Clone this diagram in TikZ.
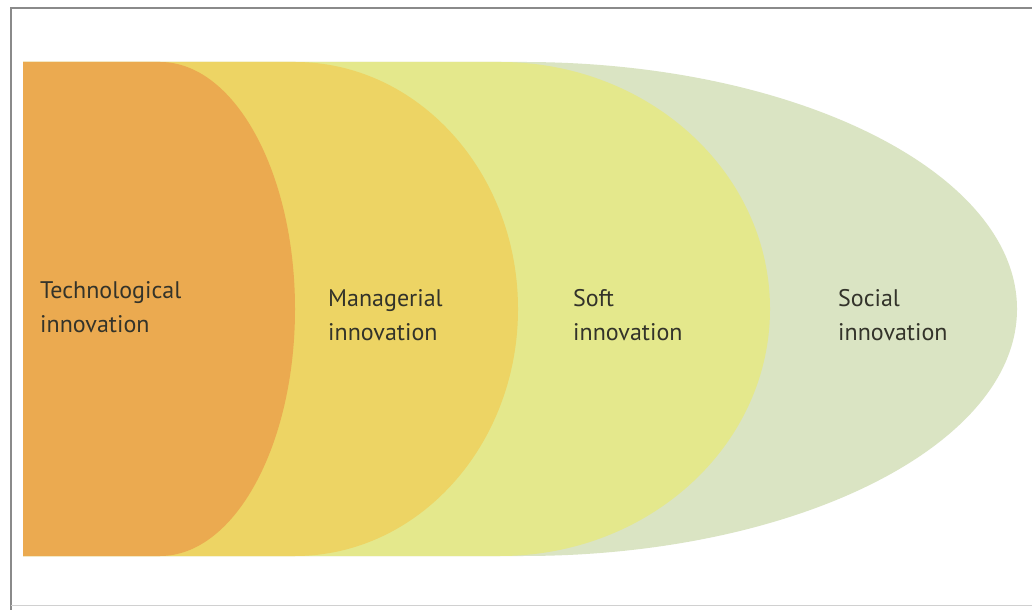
\documentclass[tikz,border=0pt]{standalone}
\usepackage{fontspec}
\setmainfont{PT Sans}
\definecolor{orangeF}{HTML}{EBAA50}
\definecolor{yellowF}{HTML}{EDD464}
\definecolor{softF}{HTML}{E4E88C}
\definecolor{greenF}{HTML}{DAE4C3}
\definecolor{txt}{HTML}{33332A}
\definecolor{frame}{HTML}{8A8A8A}
\tikzset{
  lbl/.style={anchor=base west, inner sep=0pt, align=left, text=txt,
    font=\fontsize{24}{34}\selectfont},
}
\begin{document}
\begin{tikzpicture}[x=1pt,y=1pt]
\useasboundingbox (0,0) rectangle (1032,610);
\fill[white] (0,0) rectangle (1032,610);
% frame
\draw[frame, line width=1.6pt] (1032,602) -- (11,602) -- (11,0);
\draw[frame!40, line width=0.8pt] (11,5) -- (1032,5);
% shapes (y measured upward: y = 610 - y_img)
\fill[greenF] (23,54) -- (523,54) arc[start angle=-90, end angle=90, x radius=494, y radius=247] -- (23,548) -- cycle;
\fill[softF] (23,54) -- (500,54) arc[start angle=-90, end angle=90, x radius=270, y radius=247] -- (23,548) -- cycle;
\fill[yellowF] (23,54) -- (295,54) arc[start angle=-90, end angle=90, x radius=223, y radius=247] -- (23,548) -- cycle;
\fill[orangeF] (23,54) -- (160,54) arc[start angle=-90, end angle=90, x radius=135, y radius=247] -- (23,548) -- cycle;
% labels (anchor = baseline of the last line)
\node[lbl] (tech) at (40,277) {Technological\\innovation};
\node[lbl] (man) at (328,269) {Managerial\\innovation};
\node[lbl] (soft) at (573,269) {Soft\\innovation};
\node[lbl] (soc) at (838,269) {Social\\innovation};
\end{tikzpicture}
\end{document}
